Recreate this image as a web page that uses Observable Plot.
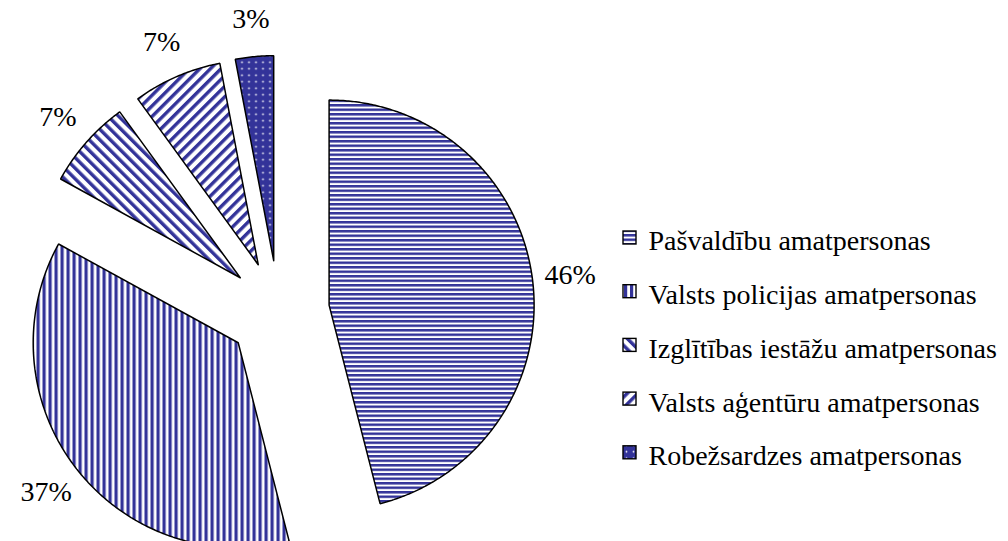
<!DOCTYPE html>
<html><head><meta charset="utf-8">
<script src="https://cdn.jsdelivr.net/npm/d3@7"></script>
<script src="https://cdn.jsdelivr.net/npm/@observablehq/plot@0.6"></script>
<style>
body{margin:0;background:#fff;}
#chart{width:1008px;height:541px;position:relative;}
#chart svg text{font-family:"Liberation Serif", "Times New Roman", serif;}
</style>
</head><body><div id="chart"></div>
<script>
// ---- data ----
const categories = ["Pašvaldību amatpersonas","Valsts policijas amatpersonas","Izglītības iestāžu amatpersonas","Valsts aģentūru amatpersonas","Robežsardzes amatpersonas"];
const shares = [46, 37, 7, 7, 3];
const labels = ["46%","37%","7%","7%","3%"];
const patterns = ["hstripe","vstripe","ddown","dup","dots"];

// ---- layout ----
const W = 1008, H = 541;
const CX = 278, CY = 311, R = 205, EXPLODE = 51, LABEL_R = 243;
const LEG_X = 623, LEG_ICON = 13, LEG_TEXT_X = 648, LEG_Y = 241, LEG_STEP = 53.7;
const BLUE = "#333399";
const FONT = "Liberation Serif";

const total = d3.sum(shares);
let acc = 0;
const slices = shares.map((v, i) => {
  const a0 = acc / total * 2 * Math.PI; acc += v;
  const a1 = acc / total * 2 * Math.PI;
  return {i, name: categories[i], v, a0, a1, mid: (a0 + a1) / 2};
});
const dir = a => [Math.sin(a), -Math.cos(a)];

const outline = [];
const labelPts = [];
for (const s of slices) {
  const [ex, ey] = dir(s.mid);
  const ax = CX + EXPLODE * ex, ay = CY + EXPLODE * ey;
  const pts = [[ax, ay]];
  const n = Math.max(2, Math.ceil((s.a1 - s.a0) / (Math.PI / 360)));
  for (let k = 0; k <= n; k++) {
    const a = s.a0 + (s.a1 - s.a0) * k / n;
    const [dx, dy] = dir(a);
    pts.push([ax + R * dx, ay + R * dy]);
  }
  pts.push([ax, ay]);
  for (const [x, y] of pts) outline.push({name: s.name, x, y, fill: `url(#${patterns[s.i]})`});
  labelPts.push({x: ax + LABEL_R * ex, y: ay + LABEL_R * ey, text: labels[s.i]});
}

const legendRows = categories.map((c, i) => ({
  name: c,
  fill: `url(#${patterns[i]})`,
  x1: LEG_X, x2: LEG_X + LEG_ICON,
  y1: LEG_Y - 10 + i * LEG_STEP, y2: LEG_Y - 10 + LEG_ICON + i * LEG_STEP,
  tx: LEG_TEXT_X, ty: LEG_Y + i * LEG_STEP
}));

const svg = Plot.plot({
  width: W, height: H,
  marginTop: 0, marginRight: 0, marginBottom: 0, marginLeft: 0,
  x: {domain: [0, W], range: [0, W], axis: null},
  y: {domain: [0, H], range: [0, H], axis: null},
  color: {type: "identity"},
  style: {background: "#fff"},
  marks: [
    Plot.line(outline, {x: "x", y: "y", z: "name", fill: "fill", stroke: "black", strokeWidth: 1.5, strokeLinejoin: "miter", curve: "linear"}),
    Plot.text(labelPts, {x: "x", y: "y", text: "text", fontFamily: FONT, fontSize: 28, fill: "black", textAnchor: "middle", lineAnchor: "middle"}),
    Plot.rect(legendRows, {x1: "x1", x2: "x2", y1: "y1", y2: "y2", fill: "fill", stroke: "black", strokeWidth: 1.4}),
    Plot.text(legendRows, {x: "tx", y: "ty", text: "name", fontFamily: FONT, fontSize: 28, fill: "black", textAnchor: "start", lineAnchor: "middle"})
  ]
});

// pattern definitions
const defs = d3.select(svg).insert("defs", ":first-child");
let p = defs.append("pattern").attr("id", "hstripe").attr("patternUnits", "userSpaceOnUse").attr("width", 10).attr("height", 4.5);
p.append("rect").attr("width", 10).attr("height", 4.5).attr("fill", "#fff");
p.append("rect").attr("width", 10).attr("height", 2.5).attr("fill", BLUE);
p = defs.append("pattern").attr("id", "vstripe").attr("patternUnits", "userSpaceOnUse").attr("width", 6).attr("height", 10);
p.append("rect").attr("width", 6).attr("height", 10).attr("fill", "#fff");
p.append("rect").attr("width", 3.2).attr("height", 10).attr("fill", BLUE);
p = defs.append("pattern").attr("id", "ddown").attr("patternUnits", "userSpaceOnUse").attr("width", 7.5).attr("height", 10).attr("patternTransform", "rotate(-45)");
p.append("rect").attr("width", 7.5).attr("height", 10).attr("fill", "#fff");
p.append("rect").attr("width", 3.4).attr("height", 10).attr("fill", BLUE);
p = defs.append("pattern").attr("id", "dup").attr("patternUnits", "userSpaceOnUse").attr("width", 7.5).attr("height", 10).attr("patternTransform", "rotate(45)");
p.append("rect").attr("width", 7.5).attr("height", 10).attr("fill", "#fff");
p.append("rect").attr("width", 3.4).attr("height", 10).attr("fill", BLUE);
p = defs.append("pattern").attr("id", "dots").attr("patternUnits", "userSpaceOnUse").attr("width", 7).attr("height", 6.5);
p.append("rect").attr("width", 7).attr("height", 6.5).attr("fill", BLUE);
p.append("circle").attr("cx", 3.5).attr("cy", 3.25).attr("r", 0.9).attr("fill", "#fff");

document.getElementById("chart").appendChild(svg);
</script>
</body></html>
